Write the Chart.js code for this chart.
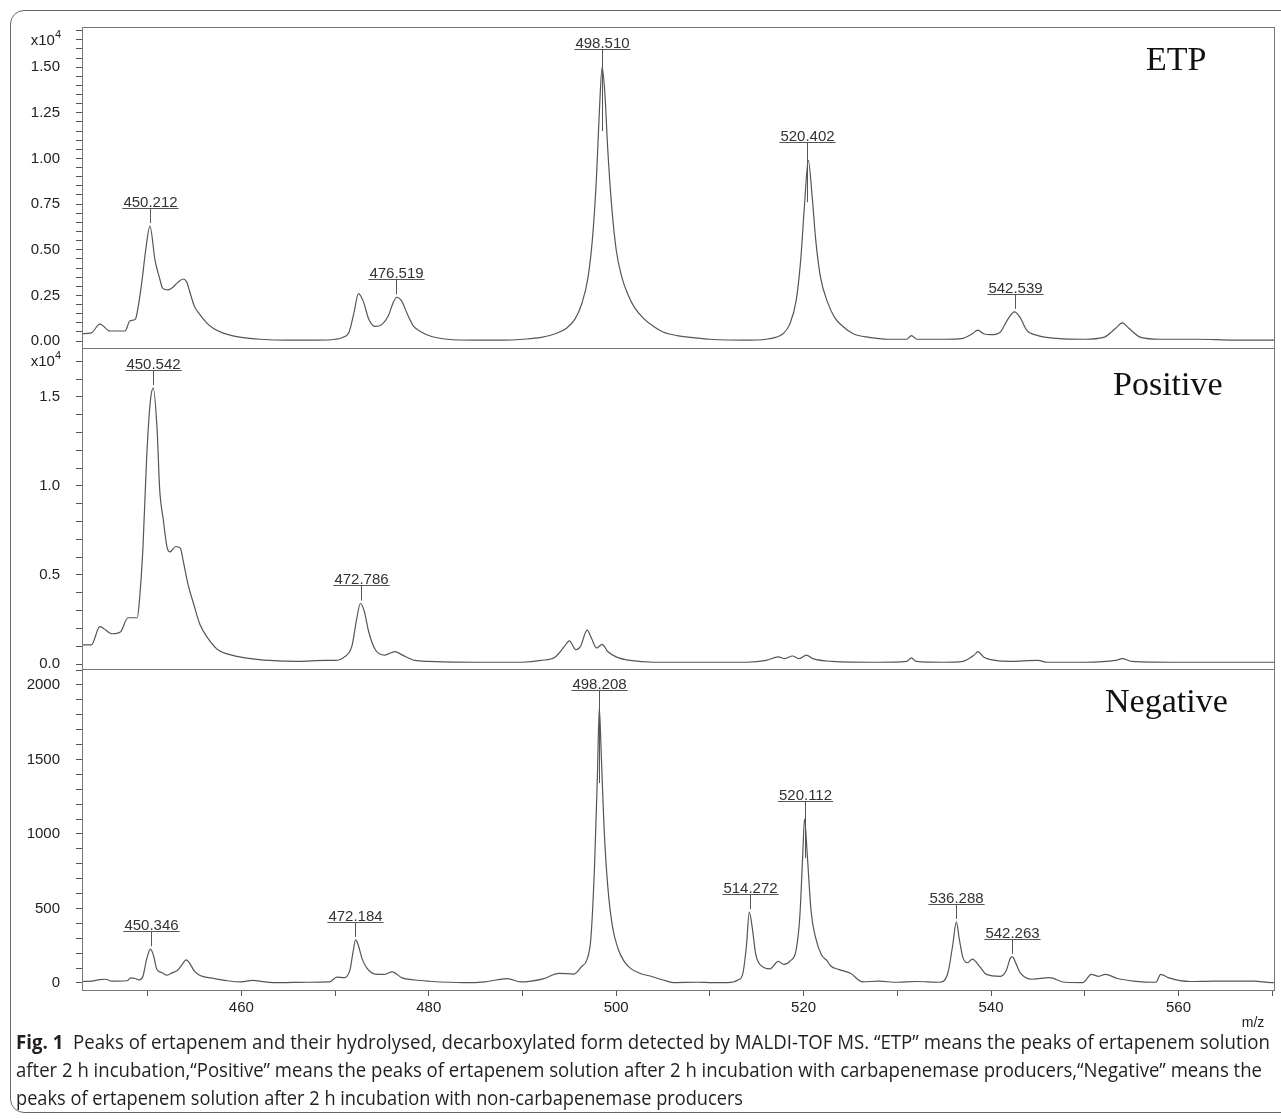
<!DOCTYPE html>
<html>
<head>
<meta charset="utf-8">
<script src="https://cdn.jsdelivr.net/npm/chart.js@4.4.1/dist/chart.umd.min.js"></script>
<style>
  body { margin: 0; background: #fff; width: 1281px; height: 1119px; overflow: hidden; position: relative; }
  #frame { position: absolute; left: 10px; top: 10px; width: 1320px; height: 1103px; border: 1.5px solid #666; border-radius: 14px; box-sizing: border-box; }
  #wrap { position: absolute; left: 0; top: 0; }
  #caption { position: absolute; left: 16px; top: 1028px; width: 1260px; font-family: "Open Sans", "Noto Sans", sans-serif; font-size: 20px; line-height: 28px; color: #231f20; }
  #caption .ln { height: 28px; white-space: nowrap; }
  #caption .ln span { display: inline-block; transform-origin: 0 50%; }
</style>
</head>
<body>
<div id="frame"></div>
<div id="wrap"><canvas id="spec" width="1281" height="1030"></canvas></div>
<div id="caption">
  <div class="ln" data-w="1254"><span><b>Fig. 1</b>&nbsp; Peaks of ertapenem and their hydrolysed, decarboxylated form detected by MALDI-TOF MS. “ETP” means the peaks of ertapenem solution</span></div>
  <div class="ln" data-w="1246"><span>after 2 h incubation,“Positive” means the peaks of ertapenem solution after 2 h incubation with carbapenemase producers,“Negative” means the</span></div>
  <div class="ln" data-w="727"><span>peaks of ertapenem solution after 2 h incubation with non-carbapenemase producers</span></div>
</div>
<script>
// spectra: [m/z, intensity]; ETP and Positive in x10^4 counts, Negative in counts
const etpSpectrum = [
  [443.0,0.04],[444.0,0.045],[444.9,0.093],[446.0,0.055],[447.6,0.055],[448.1,0.11],[448.7,0.12],[449.0,0.19],
  [449.4,0.33],[449.8,0.5],[450.25,0.63],[450.8,0.44],[451.3,0.34],[451.6,0.29],[452.2,0.28],[452.6,0.29],
  [453.2,0.32],[453.8,0.34],[454.2,0.32],[454.5,0.27],[455.0,0.19],[455.5,0.15],[456.3,0.1],[457.0,0.07],
  [458.0,0.045],[459.0,0.03],[460.0,0.02],[462.0,0.01],[465.0,0.005],[468.0,0.005],[470.0,0.01],[470.8,0.02],
  [471.5,0.05],[472.0,0.15],[472.5,0.26],[473.0,0.22],[473.6,0.12],[474.3,0.08],[475.0,0.09],[475.7,0.14],
  [476.2,0.21],[476.6,0.24],[477.1,0.22],[477.7,0.15],[478.4,0.08],[479.2,0.05],[480.3,0.025],[482.0,0.01],
  [485.0,0.005],[488.0,0.005],[490.0,0.01],[492.0,0.02],[493.5,0.04],[494.7,0.07],[495.6,0.12],[496.3,0.2],
  [497.0,0.35],[497.5,0.58],[497.9,0.9],[498.2,1.25],[498.5,1.5],[498.8,1.35],[499.1,1.05],[499.5,0.75],
  [500.0,0.5],[500.6,0.35],[501.3,0.25],[502.0,0.18],[503.0,0.12],[504.0,0.08],[505.0,0.05],[506.5,0.03],
  [508.0,0.02],[510.0,0.01],[514.0,0.005],[516.0,0.01],[517.0,0.02],[517.8,0.04],[518.5,0.09],[519.2,0.22],
  [519.7,0.45],[520.1,0.75],[520.5,0.99],[520.9,0.8],[521.3,0.55],[521.8,0.35],[522.5,0.22],[523.3,0.13],
  [524.2,0.08],[525.3,0.04],[527.0,0.02],[529.0,0.01],[531.0,0.01],[531.5,0.03],[532.1,0.01],[535.0,0.01],
  [537.0,0.015],[538.0,0.04],[538.6,0.06],[539.2,0.04],[540.0,0.035],[541.0,0.05],[541.8,0.12],[542.5,0.16],
  [543.1,0.13],[543.8,0.06],[545.0,0.03],[547.0,0.015],[550.0,0.01],[552.0,0.02],[553.3,0.07],[554.0,0.1],
  [554.7,0.07],[556.0,0.02],[558.0,0.01],[562.0,0.01],[566.0,0.005],[570.3,0.005]
];
const positiveSpectrum = [
  [443.0,0.107],[444.0,0.107],[444.9,0.21],[445.3,0.2],[446.2,0.17],[447.1,0.18],[447.9,0.26],[448.9,0.26],
  [449.1,0.34],[449.5,0.65],[449.9,1.16],[450.3,1.48],[450.6,1.55],[451.0,1.33],[451.3,0.97],[451.65,0.82],
  [452.1,0.65],[452.4,0.63],[453.0,0.66],[453.5,0.65],[453.8,0.58],[454.3,0.45],[454.9,0.34],[455.6,0.22],
  [456.5,0.14],[457.5,0.08],[459.0,0.05],[461.0,0.03],[463.0,0.02],[466.0,0.015],[469.0,0.02],[470.0,0.02],
  [471.0,0.04],[471.8,0.1],[472.3,0.25],[472.7,0.34],[473.1,0.3],[473.6,0.18],[474.3,0.08],[475.3,0.05],
  [476.4,0.07],[477.2,0.05],[478.5,0.02],[480.0,0.015],[485.0,0.01],[490.0,0.01],[492.0,0.02],[493.5,0.04],
  [494.5,0.1],[495.0,0.13],[495.7,0.08],[496.2,0.1],[496.9,0.19],[497.4,0.14],[497.9,0.09],[498.5,0.11],
  [499.1,0.07],[500.0,0.04],[501.5,0.02],[504.0,0.01],[510.0,0.01],[514.0,0.01],[516.0,0.02],[517.3,0.04],
  [518.0,0.03],[518.8,0.045],[519.5,0.03],[520.3,0.05],[521.0,0.03],[523.0,0.015],[528.0,0.01],[531.0,0.015],
  [531.5,0.035],[532.0,0.015],[535.0,0.01],[537.0,0.015],[538.2,0.05],[538.6,0.07],[539.2,0.04],[540.5,0.02],
  [542.0,0.015],[545.0,0.02],[546.0,0.01],[550.0,0.01],[553.3,0.02],[554.0,0.03],[555.0,0.015],[560.0,0.01],
  [565.0,0.01],[570.3,0.01]
];
const negativeSpectrum = [
  [443.0,10],[444.0,12],[444.9,22],[445.5,25],[446.2,12],[447.8,15],[448.2,35],[448.7,30],[449.1,20],[449.5,45],
  [449.9,160],[450.3,227],[450.6,190],[451.0,90],[451.5,70],[452.1,52],[452.6,68],[453.2,85],[453.7,125],[454.1,155],
  [454.4,140],[455.0,80],[455.6,50],[457.1,30],[458.5,15],[460.0,7],[461.2,18],[462.5,8],[464.1,2],[467.0,5],
  [469.4,7],[470.2,40],[471.0,36],[471.6,90],[471.9,200],[472.2,290],[472.5,250],[472.9,160],[473.4,100],[474.3,60],
  [475.3,58],[476.1,75],[477.1,36],[478.5,20],[480.0,12],[483.7,2],[486.0,8],[488.4,30],[489.8,7],[492.2,28],
  [493.9,65],[495.5,60],[496.3,110],[496.9,160],[497.3,300],[497.7,800],[498.0,1400],[498.2,1845],[498.4,1550],[498.7,1050],
  [499.1,650],[499.6,380],[500.2,230],[500.8,150],[501.5,100],[502.5,65],[503.7,45],[505.0,20],[506.1,3],[508.6,5],
  [510.0,3],[511.9,2],[513.0,20],[513.5,60],[513.9,250],[514.2,475],[514.5,380],[514.9,190],[515.6,110],[516.4,95],
  [517.3,145],[517.9,125],[518.6,150],[519.2,220],[519.6,450],[519.9,850],[520.1,1100],[520.4,850],[520.8,480],[521.3,300],
  [521.9,190],[522.5,150],[522.9,114],[523.75,91],[525.0,65],[526.3,8],[528.0,12],[530.0,5],[532.0,10],[534.5,5],
  [535.4,69],[535.9,250],[536.3,410],[536.6,300],[537.0,170],[537.5,136],[538.0,160],[538.8,110],[539.5,58],[541.0,45],
  [541.6,80],[542.1,170],[542.3,175],[542.6,140],[543.1,69],[544.4,25],[546.2,36],[547.9,5],[549.8,3],[550.7,58],
  [551.5,45],[552.2,58],[553.5,30],[555.2,13],[557.6,5],[558.1,58],[558.9,36],[561.25,10],[563.8,13],[568.1,13],
  [569.9,2],[570.3,3]
];

// annotated peaks (m/z)
const etpPeaks = [450.212, 476.519, 498.510, 520.402, 542.539];
const positivePeaks = [450.542, 472.786];
const negativePeaks = [450.346, 472.184, 498.208, 514.272, 520.112, 536.288, 542.263];

// tick labels
const xTickLabels = [460, 480, 500, 520, 540, 560];
const etpTickLabels = [0, 0.25, 0.5, 0.75, 1.0, 1.25, 1.5];
const positiveTickLabels = [0, 0.5, 1.0, 1.5];
const negativeTickLabels = [0, 500, 1000, 1500, 2000];

const FONT = '"Liberation Sans", Arial, sans-serif';
const INK = '#222';
const LINE = '#555';

function tickList(min, max, step) {
  const out = [];
  for (let k = Math.ceil(min / step - 1e-9); k * step <= max + 1e-9; k++) out.push(+(k * step).toFixed(6));
  return out;
}

const panels = [
  { axis: 'yEtp', name: 'ETP', data: etpSpectrum, peaks: etpPeaks, tails: [0, 0, 67, 45, 0],
    min: -0.038, max: 1.72, step: 0.05, labels: etpTickLabels, fmt: v => v.toFixed(2), exp: 1.65,
    titleX: 1146, titleDy: 43, weight: 3 },
  { axis: 'yPos', name: 'Positive', data: positiveSpectrum, peaks: positivePeaks, tails: [0, 0],
    min: -0.028, max: 1.775, step: 0.1, labels: positiveTickLabels, fmt: v => v.toFixed(1), exp: 1.7,
    titleX: 1113, titleDy: 47, weight: 2 },
  { axis: 'yNeg', name: 'Negative', data: negativeSpectrum, peaks: negativePeaks, tails: [0, 0, 78, 0, 42, 0, 0],
    min: -47, max: 2107, step: 100, labels: negativeTickLabels, fmt: v => String(Math.round(v)), exp: null,
    titleX: 1105, titleDy: 43, weight: 1 }
];

const scales = {
  x: {
    type: 'linear', min: 443, max: 570.3,
    afterBuildTicks: s => { s.ticks = tickList(450, 570, 10).map(v => ({ value: v })); },
    afterFit: s => { s.height = 40; },
    ticks: {
      autoSkip: false, maxRotation: 0, padding: 3, color: INK, font: { family: FONT, size: 15 },
      callback: v => xTickLabels.includes(Math.round(v)) ? String(Math.round(v)) : ''
    },
    grid: { drawOnChartArea: false, drawTicks: true, tickLength: 6, color: LINE },
    border: { display: false }
  }
};
panels.forEach(p => {
  scales[p.axis] = {
    type: 'linear', position: 'left', stack: 'panels', stackWeight: 1, weight: p.weight,
    min: p.min, max: p.max,
    afterBuildTicks: s => { s.ticks = tickList(0, p.max, p.step).map(v => ({ value: v })); },
    afterFit: s => { s.width = 82; },
    ticks: {
      autoSkip: false, padding: 16, color: INK, font: { family: FONT, size: 15 },
      callback: v => { const hit = p.labels.find(l => Math.abs(l - v) < 1e-6); return hit === undefined ? '' : p.fmt(hit); }
    },
    grid: { drawOnChartArea: false, drawTicks: true, tickLength: 6, color: LINE },
    border: { display: false }
  };
});

const decor = {
  id: 'decor',
  afterDatasetsDraw(chart) {
    const { ctx, chartArea: a } = chart;
    const sx = chart.scales.x;
    ctx.save();
    panels.forEach(p => {
      const s = chart.scales[p.axis];
      // panel box
      ctx.strokeStyle = '#777';
      ctx.lineWidth = 1;
      ctx.strokeRect(Math.round(a.left) + 0.5, Math.round(s.top) + 0.5, Math.round(a.right - a.left) - 1, Math.round(s.bottom - s.top));
      // panel title
      ctx.fillStyle = '#111';
      ctx.font = '34px "Liberation Serif", "Times New Roman", serif';
      ctx.textAlign = 'left';
      ctx.textBaseline = 'alphabetic';
      ctx.fillText(p.name, p.titleX, s.top + p.titleDy);
      // x10^4 exponent label
      if (p.exp !== null) {
        const ey = s.getPixelForValue(p.exp);
        ctx.fillStyle = INK;
        ctx.textAlign = 'right';
        ctx.textBaseline = 'middle';
        ctx.font = '11px ' + FONT;
        const w4 = ctx.measureText('4').width;
        ctx.fillText('4', 61, ey - 5);
        ctx.font = '15px ' + FONT;
        ctx.fillText('x10', 61 - w4, ey + 1);
      }
      // peak labels
      ctx.font = '15px ' + FONT;
      ctx.textAlign = 'center';
      ctx.textBaseline = 'alphabetic';
      ctx.strokeStyle = LINE;
      p.peaks.forEach((mz, i) => {
        let top = 0;
        p.data.forEach(([x, y]) => { if (Math.abs(x - mz) <= 0.8 && y > top) top = y; });
        const px = Math.round(sx.getPixelForValue(mz)) + 0.5;
        const py = s.getPixelForValue(top);
        const uy = Math.round(py - 18) + 0.5;
        const txt = mz.toFixed(3);
        const w = ctx.measureText(txt).width;
        ctx.fillStyle = '#333';
        ctx.fillText(txt, px, uy - 2);
        ctx.beginPath();
        ctx.moveTo(px - w / 2 - 1, uy);
        ctx.lineTo(px + w / 2 + 1, uy);
        ctx.moveTo(px, uy);
        ctx.lineTo(px, py - 3 + p.tails[i]);
        ctx.stroke();
      });
    });
    ctx.fillStyle = INK;
    ctx.font = '14px ' + FONT;
    ctx.textAlign = 'center';
    ctx.fillText('m/z', 1253, 1027);
    ctx.restore();
  }
};

new Chart(document.getElementById('spec'), {
  type: 'line',
  data: {
    datasets: panels.map(p => ({
      label: p.name,
      data: p.data.map(([x, y]) => ({ x, y })),
      xAxisID: 'x', yAxisID: p.axis,
      borderColor: LINE, borderWidth: 1.2, pointRadius: 0, cubicInterpolationMode: 'monotone', fill: false
    }))
  },
  options: {
    responsive: false, animation: false, events: [],
    layout: { padding: { top: 27, left: 0, right: 6, bottom: 0 } },
    plugins: { legend: { display: false }, tooltip: { enabled: false } },
    scales
  },
  plugins: [decor]
});

// squeeze caption lines to the condensed widths of the original
document.querySelectorAll('#caption .ln').forEach(el => {
  const span = el.firstElementChild;
  const w = span.getBoundingClientRect().width;
  span.style.transform = 'scaleX(' + (Number(el.dataset.w) / w).toFixed(4) + ')';
});
</script>
</body>
</html>
